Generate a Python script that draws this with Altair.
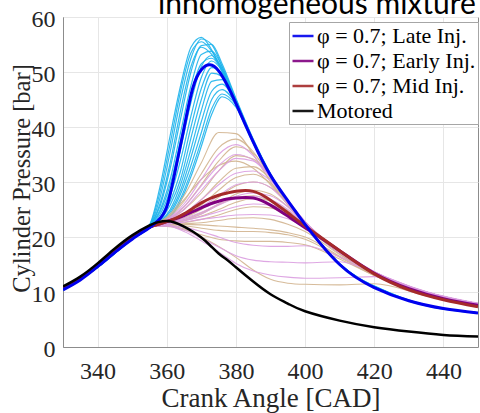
import altair as alt
import pandas as pd

# ---------------- data ----------------
title_text = ["inhomogeneous mixture"]

series_names = ["φ = 0.7; Late Inj.", "φ = 0.7; Early Inj.", "φ = 0.7; Mid Inj.", "Motored"]
series_colors = ["#0000EE", "#800080", "#A52A2A", "#000000"]

x_mean = [330, 335, 340, 345, 350, 355, 357.5, 360, 362.5, 365, 367.5, 370, 372.5,
          375, 377.5, 380, 385, 390, 395, 400, 410, 420, 430, 440, 450]
late_mean = [10.4, 12.2, 14.6, 17.2, 19.6, 21.7, 23.0, 25.5, 32.2, 39.8, 47.0, 50.4, 51.3,
             50.2, 47.6, 44.3, 37.3, 31.2, 26.6, 22.3, 15.0, 10.8, 8.4, 7.0, 6.2]
early_mean = [10.6, 12.4, 14.8, 17.4, 19.8, 21.8, 22.3, 22.8, 23.3, 23.9, 24.6, 25.3, 26.0,
              26.5, 26.9, 27.1, 27.1, 25.8, 23.8, 21.7, 17.5, 13.4, 10.6, 8.8, 7.6]
mid_mean = [10.6, 12.4, 14.8, 17.4, 19.9, 21.8, 22.3, 22.8, 23.4, 24.2, 25.2, 26.2, 27.0,
            27.6, 28.0, 28.3, 28.3, 26.7, 24.4, 22.0, 17.5, 13.3, 10.4, 8.6, 7.3]
motored = [11.0, 12.8, 15.2, 17.9, 20.3, 22.1, 22.7, 22.9, 22.6, 21.9, 21.0, 19.9, 18.5,
           17.0, 15.8, 14.5, 11.9, 9.6, 7.9, 6.5, 4.8, 3.6, 2.8, 2.2, 1.9]

# individual cycles, late injection
x_late_cyc = [330, 340, 350, 355, 358, 361, 364, 367, 370, 373, 376, 380, 385, 390, 400, 410, 425, 450]
late_cycles = [
    [10.5, 14.6, 19.8, 22.2, 29.0, 38.5, 47.5, 54.5, 56.3, 54.0, 50.0, 44.0, 37.0, 30.9, 22.1, 14.9, 9.5, 6.1],
    [10.5, 14.6, 19.8, 22.0, 27.0, 35.5, 45.0, 52.5, 56.0, 55.0, 51.0, 44.6, 37.4, 31.2, 22.3, 15.0, 9.6, 6.2],
    [10.4, 14.6, 19.7, 21.9, 25.5, 32.5, 41.5, 50.0, 54.8, 55.0, 51.5, 45.2, 37.8, 31.5, 22.5, 15.1, 9.6, 6.2],
    [10.4, 14.5, 19.7, 21.9, 24.8, 30.5, 39.0, 47.5, 53.2, 53.8, 51.0, 45.0, 37.6, 31.4, 22.4, 15.1, 9.6, 6.2],
    [10.5, 14.6, 19.7, 21.8, 24.0, 28.5, 36.0, 44.5, 51.0, 53.0, 50.6, 44.8, 37.5, 31.3, 22.4, 15.0, 9.6, 6.2],
    [10.4, 14.5, 19.6, 21.8, 23.5, 27.5, 34.0, 42.0, 49.0, 52.0, 50.2, 44.6, 37.4, 31.2, 22.3, 15.0, 9.6, 6.2],
    [10.4, 14.5, 19.6, 21.8, 23.3, 26.5, 32.0, 40.0, 47.0, 50.8, 49.8, 44.5, 37.3, 31.2, 22.3, 15.0, 9.6, 6.2],
    [10.4, 14.5, 19.6, 21.7, 23.0, 25.8, 30.5, 38.0, 45.0, 49.8, 49.2, 44.4, 37.2, 31.1, 22.3, 15.0, 9.6, 6.2],
    [10.4, 14.5, 19.6, 21.7, 22.8, 25.0, 29.5, 36.0, 43.0, 48.3, 48.6, 44.3, 37.2, 31.1, 22.2, 15.0, 9.6, 6.2],
    [10.4, 14.5, 19.6, 21.7, 22.7, 24.6, 28.5, 34.5, 41.0, 46.5, 47.8, 44.5, 37.5, 31.3, 22.4, 15.1, 9.7, 6.2],
    [10.4, 14.5, 19.6, 21.7, 22.6, 24.2, 27.8, 33.0, 39.0, 45.0, 46.8, 44.2, 37.4, 31.2, 22.3, 15.1, 9.7, 6.2],
    [10.4, 14.5, 19.6, 21.6, 22.5, 23.8, 27.0, 31.8, 37.5, 43.3, 46.0, 44.0, 37.3, 31.2, 22.3, 15.0, 9.6, 6.2],
    [10.4, 14.5, 19.6, 21.6, 22.5, 23.6, 26.5, 31.0, 36.5, 42.3, 45.5, 43.6, 37.2, 31.1, 22.2, 15.0, 9.6, 6.2],
    [10.5, 14.6, 19.8, 22.1, 28.0, 37.0, 46.5, 53.5, 55.5, 53.8, 50.5, 44.4, 37.3, 31.1, 22.3, 15.0, 9.6, 6.2],
    [10.4, 14.6, 19.7, 21.9, 26.0, 33.5, 43.0, 51.0, 54.5, 53.2, 50.3, 44.7, 37.5, 31.3, 22.4, 15.1, 9.6, 6.2],
    [10.4, 14.5, 19.7, 21.8, 24.5, 29.5, 37.5, 46.0, 51.5, 52.5, 50.4, 44.9, 37.6, 31.4, 22.4, 15.1, 9.6, 6.2],
]

# individual cycles, mid and early injection
x_slow_cyc = [330, 340, 350, 355, 360, 365, 370, 375, 380, 385, 390, 395, 400, 410, 420, 435, 450]
mid_cycles = [
    [10.6, 14.8, 19.9, 21.9, 23.6, 27.5, 33.5, 39.0, 38.8, 35.0, 30.0, 25.8, 22.3, 17.0, 13.2, 9.6, 7.4],
    [10.6, 14.8, 19.9, 21.9, 23.3, 26.5, 31.5, 36.2, 37.8, 35.5, 30.8, 26.2, 22.5, 17.2, 13.4, 9.7, 7.5],
    [10.6, 14.8, 19.9, 21.9, 23.0, 25.5, 29.5, 33.8, 36.4, 35.2, 31.2, 26.5, 22.6, 17.3, 13.5, 9.8, 7.6],
    [10.6, 14.8, 19.9, 21.9, 22.9, 25.0, 28.0, 32.0, 34.8, 34.2, 31.0, 26.6, 22.7, 17.3, 13.5, 9.8, 7.6],
    [10.6, 14.8, 19.9, 21.9, 22.7, 24.3, 26.8, 30.0, 32.5, 32.8, 30.5, 26.5, 22.7, 17.3, 13.5, 9.8, 7.6],
    [10.6, 14.8, 19.9, 21.9, 22.6, 23.8, 25.8, 28.5, 30.8, 31.4, 29.8, 26.3, 22.6, 17.3, 13.5, 9.8, 7.6],
    [10.6, 14.8, 19.9, 21.9, 22.5, 23.5, 25.0, 27.2, 29.3, 30.0, 29.0, 26.0, 22.5, 17.2, 13.4, 9.8, 7.5],
    [10.6, 14.8, 19.9, 21.9, 22.4, 23.2, 24.4, 26.0, 27.8, 28.5, 27.8, 25.5, 22.4, 17.2, 13.4, 9.7, 7.5],
    [10.6, 14.8, 19.9, 21.9, 22.3, 22.9, 23.8, 25.0, 26.3, 27.0, 26.6, 24.8, 22.2, 17.1, 13.4, 9.7, 7.5],
    [10.6, 14.8, 19.9, 21.9, 22.2, 22.6, 23.2, 24.0, 25.0, 25.5, 25.3, 24.0, 21.8, 17.0, 13.3, 9.7, 7.5],
    [10.6, 14.8, 19.9, 21.9, 22.1, 22.4, 22.6, 23.0, 23.4, 23.5, 23.2, 22.3, 21.0, 16.8, 13.2, 9.6, 7.4],
    [10.6, 14.8, 19.9, 21.9, 22.0, 22.0, 21.6, 21.2, 21.0, 21.0, 20.8, 20.4, 19.6, 16.3, 13.0, 9.6, 7.4],
    [10.6, 14.8, 19.9, 21.9, 22.0, 21.5, 20.0, 18.3, 16.3, 14.0, 12.3, 11.6, 11.4, 11.3, 11.5, 9.3, 7.3],
    [10.6, 14.8, 19.9, 21.9, 23.4, 26.8, 30.5, 33.0, 33.8, 32.5, 29.5, 26.0, 22.5, 17.2, 13.4, 9.7, 7.5],
    [10.6, 14.8, 19.9, 21.9, 22.3, 23.0, 24.2, 25.8, 27.2, 27.5, 26.5, 24.5, 22.0, 17.1, 13.3, 9.7, 7.5],
    [10.6, 14.8, 19.9, 21.9, 22.1, 22.3, 22.2, 22.0, 21.8, 21.6, 21.3, 20.8, 20.0, 16.5, 13.1, 9.6, 7.4],
    [10.6, 14.8, 19.9, 21.9, 21.9, 21.3, 20.4, 19.6, 19.3, 19.2, 19.2, 19.0, 18.6, 16.0, 13.0, 9.6, 7.4],
]
early_cycles = [
    [10.6, 14.8, 19.9, 21.9, 23.2, 26.0, 30.5, 35.0, 36.8, 34.8, 30.8, 26.4, 22.6, 17.3, 13.6, 10.0, 7.8],
    [10.6, 14.8, 19.9, 21.9, 23.0, 25.0, 28.5, 32.0, 34.3, 33.8, 31.0, 26.7, 22.8, 17.4, 13.7, 10.0, 7.9],
    [10.6, 14.8, 19.9, 21.9, 22.8, 24.3, 26.8, 29.5, 31.6, 32.0, 30.2, 26.5, 22.8, 17.4, 13.7, 10.0, 7.9],
    [10.6, 14.8, 19.9, 21.9, 22.6, 23.8, 25.5, 27.5, 29.5, 30.0, 29.0, 26.0, 22.6, 17.4, 13.7, 10.1, 8.0],
    [10.6, 14.8, 19.9, 21.9, 22.5, 23.4, 24.5, 26.0, 27.4, 28.0, 27.5, 25.5, 22.5, 17.3, 13.6, 10.0, 7.9],
    [10.6, 14.8, 19.9, 21.9, 22.4, 23.0, 23.7, 24.6, 25.5, 26.0, 25.8, 24.5, 22.2, 17.2, 13.6, 10.0, 7.9],
    [10.6, 14.8, 19.9, 21.9, 22.3, 22.7, 23.2, 23.6, 24.0, 24.1, 24.0, 23.3, 21.7, 17.1, 13.5, 10.0, 7.9],
    [10.6, 14.8, 19.9, 21.9, 22.0, 21.3, 19.8, 18.2, 16.6, 15.8, 15.5, 15.4, 15.3, 15.5, 13.5, 10.0, 7.9],
    [10.6, 14.8, 19.9, 21.9, 22.0, 21.0, 19.3, 17.3, 15.2, 13.8, 13.1, 12.7, 12.5, 12.6, 12.8, 9.9, 7.8],
    [10.6, 14.8, 19.9, 21.9, 23.1, 25.5, 29.3, 33.0, 35.0, 34.0, 30.8, 26.6, 22.7, 17.3, 13.6, 10.0, 7.8],
    [10.6, 14.8, 19.9, 21.9, 22.4, 23.2, 24.2, 25.8, 27.0, 27.4, 26.8, 25.0, 22.3, 17.2, 13.6, 10.0, 7.9],
    [10.6, 14.8, 19.9, 21.9, 22.1, 21.8, 21.0, 20.0, 19.0, 18.5, 18.3, 18.3, 18.4, 16.4, 13.4, 9.9, 7.8],
]
cycle_colors = {"late": "#1EB4EC", "mid": "#D2B48F", "early": "#DA9DE0"}

x_ticks = [340, 360, 380, 400, 420, 440]
y_ticks = [0, 10, 20, 30, 40, 50, 60]

# ---------------- tables ----------------
def cycles_frame(name, xs, cycles):
    rows = []
    for i, ys in enumerate(cycles):
        for x, y in zip(xs, ys):
            rows.append({"x": x, "y": y, "cycle": f"{name}{i}", "col": cycle_colors[name]})
    return pd.DataFrame(rows)

late_cyc_df = cycles_frame("late", x_late_cyc, late_cycles)
mid_cyc_df = cycles_frame("mid", x_slow_cyc, mid_cycles)
early_cyc_df = cycles_frame("early", x_slow_cyc, early_cycles)

mean_rows = []
for name, ys in zip(series_names, [late_mean, early_mean, mid_mean, motored]):
    for x, y in zip(x_mean, ys):
        mean_rows.append({"x": x, "y": y, "series": name})
mean_df = pd.DataFrame(mean_rows)

# ---------------- encodings ----------------
x_enc = alt.X("x:Q", scale=alt.Scale(domain=[330, 450], nice=False),
              axis=alt.Axis(values=x_ticks, title="Crank Angle [CAD]", labelPadding=12,
                            titleBaseline="alphabetic", titleY=59))
y_enc = alt.Y("y:Q", scale=alt.Scale(domain=[0, 60], nice=False),
              axis=alt.Axis(values=y_ticks, title="Cylinder Pressure [bar]", labelPadding=8,
                            labelOffset=2,
                            titleAngle=270, titleBaseline="alphabetic", titleX=-34, titleY=161,
                            titleFontSize=24.5))

def thin_layer(df, width):
    return alt.Chart(df).mark_line(strokeWidth=width, opacity=0.9, interpolate="monotone", clip=True).encode(
        x=x_enc, y=y_enc, detail="cycle:N", color=alt.Color("col:N", scale=None))

color_enc = alt.Color("series:N", scale=alt.Scale(domain=series_names, range=series_colors),
                      legend=alt.Legend(title=None, orient="none", legendX=226, legendY=5))

def mean_layer(name, width):
    return alt.Chart(mean_df).transform_filter(alt.datum.series == name).mark_line(
        strokeWidth=width, interpolate="natural", clip=True).encode(x=x_enc, y=y_enc, color=color_enc)

title_layer = alt.Chart(pd.DataFrame({"t": title_text})).mark_text(
    font="Lato", fontSize=30, align="left", baseline="alphabetic", color="#000000").encode(
    x=alt.value(95), y=alt.value(-3.5), text="t:N")

chart = alt.layer(
    thin_layer(late_cyc_df, 1.2),
    thin_layer(mid_cyc_df, 1.1),
    thin_layer(early_cyc_df, 1.1),
    mean_layer(series_names[1], 3),
    mean_layer(series_names[2], 3),
    mean_layer(series_names[0], 3),
    mean_layer(series_names[3], 2.5),
    title_layer,
).properties(
    width=415, height=330,
    autosize=alt.AutoSizeParams(type="none"),
    padding={"left": 63, "top": 17, "right": 2, "bottom": 66},
    background="white",
).configure_view(
    stroke="#8C8C8C", strokeWidth=1
).configure_axis(
    grid=True, gridColor="#E6E6E6", domainColor="#8C8C8C", tickSize=0,
    labelFont="Liberation Serif", labelFontSize=24, labelColor="#262626",
    titleFont="Liberation Serif", titleFontSize=27, titleColor="#262626", titleFontWeight="normal",
).configure_legend(
    symbolType="stroke", symbolSize=441, symbolStrokeWidth=2.5,
    labelFont="Liberation Serif", labelFontSize=22, labelColor="#000000", labelLimit=0,
    labelOffset=2, rowPadding=2, padding=2, strokeColor="#A6A6A6", fillColor="#FFFFFF",
)

chart.save("out.html", embed_options={"renderer": "svg", "actions": False})
